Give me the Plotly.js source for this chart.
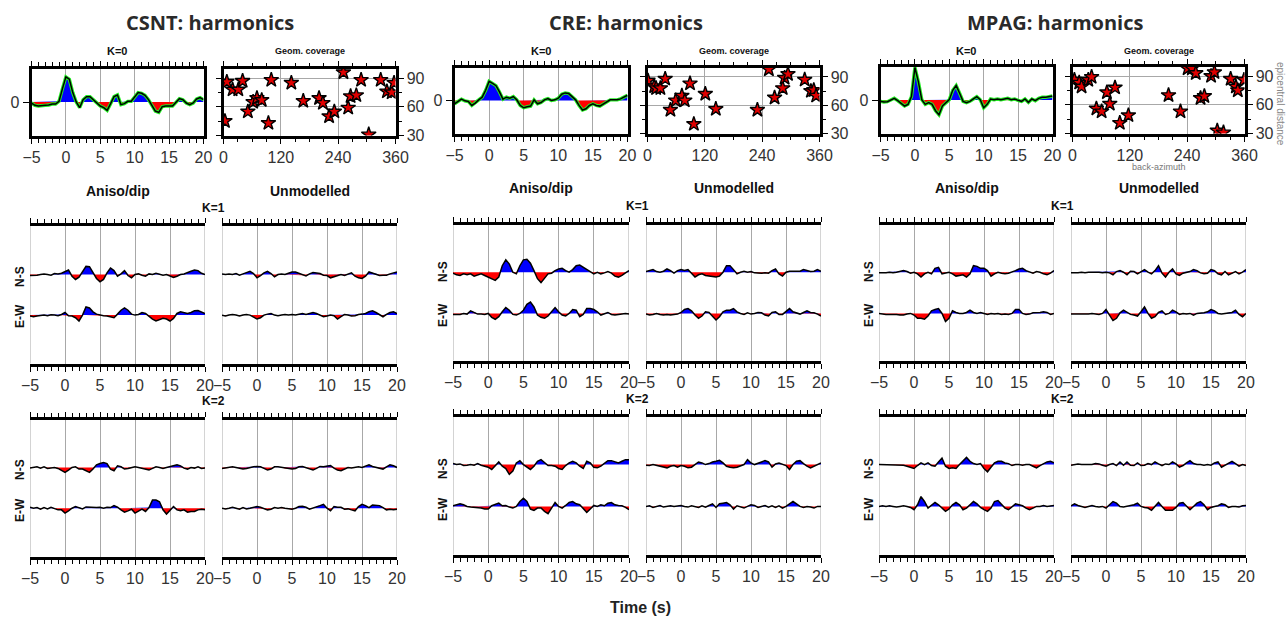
<!DOCTYPE html>
<html><head><meta charset="utf-8">
<script src="https://cdn.plot.ly/plotly-3.0.1.min.js"></script>
<style>html,body{margin:0;padding:0;background:#fff}#chart{width:1288px;height:618px}</style>
</head><body><div id="chart"></div>
<script>
// ---------------- DATA ----------------
const stationNames = ['CSNT', 'CRE', 'MPAG'];
const time = [-5,-4.5,-4,-3.5,-3,-2.5,-2,-1.5,-1,-0.5,0,0.5,1,1.5,2,2.5,3,3.5,4,4.5,5,5.5,6,6.5,7,7.5,8,8.5,9,9.5,10,10.5,11,11.5,12,12.5,13,13.5,14,14.5,15,15.5,16,16.5,17,17.5,18,18.5,19,19.5,20];

// K=0 harmonic (normalised)
const csntK0 = [-0.03,-0.10,-0.12,-0.12,-0.10,-0.09,-0.06,-0.06,0.02,0.40,0.75,0.68,0.28,0.0,-0.17,0.07,0.16,0.16,0.07,-0.05,-0.12,-0.17,-0.25,-0.05,0.16,0.21,-0.08,-0.05,0.02,0.02,0.14,0.28,0.26,0.20,0.07,-0.10,-0.27,-0.31,-0.14,-0.12,-0.12,-0.12,-0.01,0.10,0.07,-0.03,-0.08,-0.03,0.09,0.13,0.07];
const creK0  = [-0.10,-0.03,0.04,-0.01,-0.03,-0.15,-0.08,0.02,0.10,0.31,0.58,0.52,0.45,0.26,0.04,0.10,0.07,0.12,0.02,-0.15,-0.22,-0.19,-0.17,0.02,-0.10,-0.06,0.02,0.06,0.0,0.02,0.07,0.19,0.23,0.21,0.12,0.02,-0.15,-0.29,-0.25,-0.15,-0.10,-0.15,-0.17,-0.10,-0.03,0.02,0.02,0.02,0.05,0.10,0.16];
const mpagK0 = [-0.04,-0.06,-0.05,-0.01,0.05,-0.02,-0.11,-0.18,-0.13,0.10,0.97,0.55,0.01,-0.13,-0.08,-0.13,-0.32,-0.44,-0.18,-0.07,0.01,0.29,0.43,0.20,-0.04,-0.08,-0.04,0.03,0.10,0.01,-0.23,-0.13,0.03,0.01,0.03,0.01,0.03,0.05,0.01,0.03,-0.01,-0.04,0.03,-0.07,0.03,-0.02,0.05,0.08,0.08,0.10,0.12];

// K=1 / K=2 harmonics (amplitude units)
const csntK1AnisoNS = [-3,-3,-2,0,2,0,-2,3,2,4, 10,14,-5,-15,-8,8,25,24,5,-12, -22,-15,5,20,12,-5,2,12,-3,-10, 0,2,-2,-5,2,0,4,2,-2,0, -5,-9,-5,0,2,5,10,14,12,4, 0];
const csntK1AnisoEW = [-3,-5,-3,-2,0,-2,1,0,-2,2, 8,-2,-3,-8,-18,0,25,22,10,3, 0,-2,-3,-5,-8,3,15,22,15,3, 0,2,8,5,-5,-12,-18,-15,-10,-12, -18,-10,5,10,8,5,8,13,14,10, 5];
const csntK1UnmodNS = [2,0,2,0,3,-2,2,5,10,3, -10,-3,5,10,3,-7,0,2,0,4, 8,8,4,-2,-4,2,6,5,3,-2, -3,-10,-6,-3,0,-3,2,5,-5,-10, -12,-5,8,5,2,-3,-2,-2,2,4, 8];
const csntK1UnmodEW = [0,-3,0,2,0,-3,0,2,0,-5, -12,-8,0,3,5,0,-2,0,2,0, 2,0,3,5,2,5,8,5,0,-5, -3,0,-2,-12,-5,2,0,-3,-2,2, 3,5,10,13,8,2,-5,2,8,10, 5];
const csntK2AnisoNS = [-2,0,2,-2,2,-3,-2,0,-3,-8, -15,-8,0,2,-5,-5,-10,-15,-5,8, 12,15,12,-5,-10,5,2,-5,-3,0, 2,0,-3,-6,-8,-3,2,0,-3,0, 3,5,8,5,-2,-5,0,-2,2,-3, -2];
const csntK2AnisoEW = [3,0,2,-3,2,-2,3,0,-5,-5, -15,-8,0,5,2,-2,4,3,2,2, 3,0,3,2,8,3,-5,-12,-8,-3, -15,-8,-3,-10,2,25,25,20,-5,-18, -5,5,-5,-8,-5,-12,-10,-10,-5,-3, -5];
const csntK2UnmodNS = [-3,-2,0,2,0,-2,-5,-3,0,2, 3,2,-3,-8,-5,2,2,0,-3,-5, -5,-3,2,3,0,-3,-8,-3,3,2, 5,6,-2,-8,-10,-5,0,-2,0,2, 0,3,8,3,0,-3,-5,2,8,5, 0];
const csntK2UnmodEW = [0,-2,0,3,0,-3,2,-2,0,2, 5,3,-2,-5,-3,2,0,2,0,-2, -3,0,5,6,3,-3,0,5,8,12, 0,-8,5,3,3,-3,-2,-5,-8,5, 12,8,2,10,8,8,2,-5,-3,-5, -3];

const creK1AnisoNS = [-3,-8,-10,-5,-8,-5,-12,-8,-5,-10, -15,-20,-25,-15,20,38,25,0,-5,20, 38,40,28,5,-20,-32,-20,-5,-3,5, 10,12,5,0,8,20,22,15,8,0, -5,0,-5,-2,2,-3,-12,-15,-10,-2, 5];
const creK1AnisoEW = [-3,-3,-3,0,-2,8,3,-2,-2,-3, 0,-12,-18,-10,5,18,10,-3,-5,0, 10,28,35,20,-5,-12,-15,-8,5,18, 5,-5,-8,0,12,10,-10,-3,15,15, 12,5,-5,0,3,-3,-5,-3,-2,0, -2];
const creK1UnmodNS = [2,5,8,2,0,3,10,5,-3,5, 8,5,8,-3,-15,-8,-5,-10,-12,-12, -15,-12,0,20,20,8,-5,0,3,0, 2,-2,-3,-3,-2,-3,5,10,-5,-12, 0,3,3,3,3,8,5,2,3,8, 3];
const creK1UnmodEW = [-2,-5,-3,0,-3,-5,-3,-5,-3,-2, 3,12,15,8,-5,-15,-8,5,3,-8, -20,-10,5,10,10,15,5,0,-3,2, -2,0,3,2,-5,-8,3,5,-3,-3, 5,15,5,2,-2,3,8,3,2,-2, -8];
const creK2AnisoNS = [3,0,2,-3,-2,0,-2,3,-2,-5, -8,-15,-5,8,-5,-12,-30,-20,5,12, 0,-8,-15,-5,10,15,5,-3,-3,-5, -12,-15,-3,5,10,5,-5,-12,10,5, -8,-10,-5,5,12,12,8,5,10,15, 15];
const creK2AnisoEW = [2,5,8,5,0,-2,-3,-2,-5,-8, -8,2,5,10,2,3,-2,-5,0,15, 25,15,-8,-12,-5,-5,-15,-22,-5,12, 0,-5,3,12,15,8,5,-5,-18,-8, 3,0,5,2,10,12,5,3,2,-3, -10];
const creK2UnmodNS = [-2,-3,0,-2,-5,-8,-10,-5,-3,-8, -3,-5,-10,-8,0,8,5,0,3,8, 10,13,5,-5,-8,-10,-8,-5,0,15, 5,0,3,8,12,8,-8,2,5,0, -3,-15,0,10,12,3,-5,-10,-5,0, 5];
const creK2UnmodEW = [0,2,-3,0,3,-2,0,2,0,2, 3,0,-2,2,0,-3,2,-2,3,8, -3,8,10,12,5,-8,2,-2,-5,0, 5,3,-3,0,3,-2,2,-3,2,-5, 0,8,15,8,0,-3,0,-2,-5,0, 0];

const mpagK1AnisoNS = [-2,-3,-2,0,-2,0,2,5,2,-3, 0,-5,-15,-5,0,-5,12,15,-5,-3, 0,-5,-12,-10,-8,-15,-5,20,18,12, 12,5,-12,-5,0,-3,-5,-3,0,5, 10,12,5,0,-3,2,0,-5,-8,-3, 5];
const mpagK1AnisoEW = [0,-2,-3,-3,-2,-3,-5,-5,-2,0, -5,-15,-15,-18,-8,8,12,15,0,-25, -15,8,3,0,0,3,10,3,0,3, 0,-3,0,-2,0,-3,-2,-3,0,12, 12,0,-3,-2,2,2,3,5,3,-3, 0];
const mpagK1UnmodNS = [-2,-3,-2,0,-2,0,0,2,0,-2, 0,-2,-8,2,5,0,-8,3,2,-5, 2,8,0,-5,5,20,-3,-15,0,10, -5,-10,-3,0,2,8,5,-2,-5,-3, 8,5,-5,-8,2,-8,-3,2,-5,0, 8];
const mpagK1UnmodEW = [-2,-3,-2,-2,-3,-2,0,-2,-3,0, 12,-5,-22,-15,2,10,3,-3,-5,-8, 5,20,0,-15,-10,3,8,-3,0,10, 5,-3,0,-2,0,-5,0,0,2,5, 12,8,0,-2,0,2,3,10,-3,-10, 0];
const mpagK2AnisoNS = [0,0,0,-1,0,0,0,-2,-5,-8, -12,-3,5,0,5,-3,-5,8,20,-5, -12,-10,-12,0,12,22,10,3,0,3, -12,-22,-8,5,10,10,5,3,-3,0, 0,-2,0,0,-5,-10,-3,3,8,10, 5];
const mpagK2AnisoEW = [0,2,0,2,0,-2,0,2,0,-3, -10,5,30,15,-5,5,12,5,-5,-15, -8,5,12,5,-10,-5,5,15,8,-3, -10,-15,-5,15,18,5,-5,-10,0,8, 5,2,-5,-10,-5,0,0,3,0,2, 3];
const mpagK2UnmodNS = [-2,0,2,0,0,2,0,3,2,-2, -5,0,3,-3,8,-2,8,-2,-3,5, -3,-2,3,0,8,2,-3,2,0,8, 2,-8,-3,5,12,3,0,0,-2,0, -2,5,8,-8,-2,5,10,3,-5,0, -3];
const mpagK2UnmodEW = [2,8,3,0,-3,0,3,0,-2,0, -5,5,15,10,0,-2,0,3,5,10, 0,-3,-5,-12,0,12,0,-12,-12,-12, -3,10,12,0,-10,0,10,15,5,-10, -3,0,2,8,5,-3,0,0,-2,2, 3];

// Geometric coverage: back-azimuth (deg) and epicentral distance (deg)
const csntBaz  = [7,3,19,31,40,51,62,70,80,94,100,142,167,200,208,221,232,251,261,266,278,288,304,329,342,352,357];
const csntDist = [86,45,78,78,87,55,65,69,67,43,88,85,66,69,64,50,55,96,59,71,72,88,31,88,76,75,85];
const creBaz   = [1,14,18,27,37,48,59,72,78,89,97,121,143,230,254,266,283,287,294,329,342,348,353];
const creDist  = [86,80,78,78,88,55,65,70,65,83,40,72,56,55,98,68,78,89,93,87,75,76,70];
const mpagBaz  = [4,14,19,33,40,50,61,72,78,89,99,117,201,226,241,250,258,268,276,290,297,303,316,331,342,346,359];
const mpagDist = [86,83,79,86,89,56,53,73,61,78,41,49,70,53,98,98,93,67,69,90,94,33,31,87,79,75,86];

// ---------------- LAYOUT ----------------
const W = 1288, H = 618;
const geo = [
  {k0x:[30,205], gx:[222,397], top:[67,137], k1:[224,365], k2:[418,558], off1:124, r1:[-148,274], off2:125, r2:[-148,272],
   title:[210,22], k1lab:[213,208], k2lab:[213,401], sub:191, nsx:20, lab1:[277,316], lab2:[470,510]},
  {k0x:[453,629], gx:[646,821], top:[66,135], k1:[223,362], k2:[415,556], off1:127, r1:[-145,274], off2:128, r2:[-147,275],
   title:[626,22], k1lab:[637,206], k2lab:[637,399], sub:188, nsx:443, lab1:[272,315], lab2:[469,509]},
  {k0x:[879,1054], gx:[1071,1246], top:[65,135], k1:[223,362], k2:[415,556], off1:127, r1:[-145,274], off2:128, r2:[-147,275],
   title:[1055,22], k1lab:[1062,206], k2lab:[1062,399], sub:188, nsx:869, lab1:[272,315], lab2:[469,509]}
];
const k0Data = [csntK0, creK0, mpagK0];
const k1Data = [
  [csntK1AnisoNS, csntK1AnisoEW, csntK1UnmodNS, csntK1UnmodEW],
  [creK1AnisoNS, creK1AnisoEW, creK1UnmodNS, creK1UnmodEW],
  [mpagK1AnisoNS, mpagK1AnisoEW, mpagK1UnmodNS, mpagK1UnmodEW]];
const k2Data = [
  [csntK2AnisoNS, csntK2AnisoEW, csntK2UnmodNS, csntK2UnmodEW],
  [creK2AnisoNS, creK2AnisoEW, creK2UnmodNS, creK2UnmodEW],
  [mpagK2AnisoNS, mpagK2AnisoEW, mpagK2UnmodNS, mpagK2UnmodEW]];
const geomData = [[csntBaz, csntDist], [creBaz, creDist], [mpagBaz, mpagDist]];

const BLUE = '#0000ff', RED = '#ff0000';
const TICKFONT = {family:'Liberation Sans, Arial, sans-serif', size:16, color:'#333'};
const sfx = n => (n === 1 ? '' : String(n));
const xd = (a, b) => [a / W, b / W];
const yd = (top, bot) => [1 - bot / H, 1 - top / H];

function withCrossings(t, v) {
  const xs = [], ys = [];
  for (let i = 0; i < t.length; i++) {
    if (i > 0) {
      const a = v[i - 1], b = v[i];
      if ((a < 0 && b > 0) || (a > 0 && b < 0)) {
        const f = a / (a - b);
        xs.push(t[i - 1] + f * (t[i] - t[i - 1])); ys.push(0);
      }
    }
    xs.push(t[i]); ys.push(v[i]);
  }
  return [xs, ys];
}
function fillTrace(t, v, off, positive, color, n) {
  const [xs, ys] = withCrossings(t, v);
  const px = xs.slice();
  const py = ys.map(y => off + (positive ? Math.max(y, 0) : Math.min(y, 0)));
  px.push(xs[xs.length - 1], xs[0]); py.push(off, off);
  return {type:'scatter', mode:'lines', x:px, y:py, fill:'toself', fillcolor:color,
    line:{width:0, color:color}, xaxis:'x' + sfx(n), yaxis:'y' + sfx(n), hoverinfo:'skip', showlegend:false};
}
function lineTrace(t, v, off, color, width, n) {
  return {type:'scatter', mode:'lines', x:t, y:v.map(y => y + off), line:{color:color, width:width},
    xaxis:'x' + sfx(n), yaxis:'y' + sfx(n), hoverinfo:'skip', showlegend:false};
}

function timeX(n, dom) {
  return {domain:dom, anchor:'y' + sfx(n), range:[-5, 20], tickmode:'linear', tick0:-5, dtick:5,
    ticks:'outside', ticklen:5, tickwidth:1, tickcolor:'#000',
    minor:{tick0:-5, dtick:1, ticks:'outside', ticklen:4, tickwidth:1, tickcolor:'#000', showgrid:false},
    showline:true, linecolor:'#000', linewidth:3, mirror:'allticks',
    showgrid:true, gridcolor:'#a8a8a8', gridwidth:1, zeroline:false, tickfont:TICKFONT, fixedrange:true};
}

const traces = [];
const layout = {width:W, height:H, margin:{l:0, r:0, t:0, b:0}, paper_bgcolor:'#fff', plot_bgcolor:'rgba(0,0,0,0)',
  showlegend:false, font:{family:'Liberation Sans, Arial, sans-serif', color:'#222'}, annotations:[], shapes:[]};

function ann(text, x, y, size, opts) {
  layout.annotations.push(Object.assign({text:text, x:x / W, y:1 - y / H, xref:'paper', yref:'paper',
    xanchor:'center', yanchor:'middle', showarrow:false,
    font:{family:'Liberation Sans, Arial, sans-serif', size:size, color:'#111', weight:'bold'}}, opts || {}));
}
function edgeGrid(n) {
  [-5, 20].forEach(xv => layout.shapes.push({type:'line', xref:'x' + sfx(n), yref:'y' + sfx(n) + ' domain',
    x0:xv, x1:xv, y0:0, y1:1, line:{color:'#a8a8a8', width:1}, layer:'below'}));
}

for (let s = 0; s < 3; s++) {
  const g = geo[s];
  const base = s * 6;
  // ---- K=0 panel
  let n = base + 1;
  layout['xaxis' + sfx(n)] = timeX(n, xd(g.k0x[0] + 1.5, g.k0x[1] - 1.5));
  layout['yaxis' + sfx(n)] = {domain:yd(g.top[0] + 1.5, g.top[1] - 1.5), anchor:'x' + sfx(n), range:[-1, 1],
    tickmode:'array', tickvals:[0], ticktext:['0'], ticks:'outside', ticklen:6, tickwidth:1, tickcolor:'#000',
    showline:true, linecolor:'#000', linewidth:3, mirror:true, showgrid:false, zeroline:false, tickfont:TICKFONT, fixedrange:true};
  traces.push(fillTrace(time, k0Data[s], 0, true, BLUE, n));
  traces.push(fillTrace(time, k0Data[s], 0, false, RED, n));
  traces.push(lineTrace(time, k0Data[s], 0, '#22ee22', 3.4, n));
  traces.push(lineTrace(time, k0Data[s], 0, '#000', 1.5, n));

  // ---- Geometric coverage
  n = base + 2;
  layout['xaxis' + sfx(n)] = {domain:xd(g.gx[0] + 1.5, g.gx[1] - 1.5), anchor:'y' + sfx(n), range:[0, 360],
    tickmode:'linear', tick0:0, dtick:120, ticks:'outside', ticklen:5, tickwidth:1, tickcolor:'#000',
    minor:{tick0:0, dtick:30, ticks:'outside', ticklen:3, tickwidth:1, tickcolor:'#000', showgrid:false},
    showline:true, linecolor:'#000', linewidth:3, mirror:'allticks', showgrid:true, gridcolor:'#a8a8a8', gridwidth:1,
    zeroline:false, tickfont:TICKFONT, fixedrange:true};
  layout['yaxis' + sfx(n)] = {domain:yd(g.top[0] + 1.5, g.top[1] - 1.5), anchor:'x' + sfx(n), side:'right', range:[30, 100],
    tickmode:'linear', tick0:30, dtick:30, ticks:'outside', ticklen:5, tickwidth:1, tickcolor:'#000',
    minor:{tick0:30, dtick:15, ticks:'outside', ticklen:3, tickwidth:1, tickcolor:'#000', showgrid:false},
    showline:true, linecolor:'#000', linewidth:3, mirror:'allticks', showgrid:true, gridcolor:'#a8a8a8', gridwidth:1,
    zeroline:false, tickfont:TICKFONT, fixedrange:true};
  traces.push({type:'scatter', mode:'markers', x:geomData[s][0], y:geomData[s][1], xaxis:'x' + sfx(n), yaxis:'y' + sfx(n),
    marker:{symbol:'star', size:11, color:'#e00000', line:{color:'#000', width:1.4}}, hoverinfo:'skip', showlegend:false});

  // ---- K=1 and K=2 panels
  const rows = [[g.k1, g.off1, g.r1, k1Data[s]], [g.k2, g.off2, g.r2, k2Data[s]]];
  rows.forEach((row, ri) => {
    const [yy, off, rng, dat] = row;
    [g.k0x, g.gx].forEach((xx, ci) => {
      const m = base + 3 + ri * 2 + ci;
      layout['xaxis' + sfx(m)] = timeX(m, xd(xx[0], xx[1]));
      layout['yaxis' + sfx(m)] = {domain:yd(yy[0] + 1.5, yy[1] - 1.5), anchor:'x' + sfx(m), range:rng,
        showline:false, showticklabels:false, ticks:'', showgrid:false, zeroline:false, fixedrange:true};
      edgeGrid(m);
      const ns = dat[ci * 2], ew = dat[ci * 2 + 1];
      [[ns, off], [ew, 0]].forEach(([v, o]) => {
        traces.push(fillTrace(time, v, o, true, BLUE, m));
        traces.push(fillTrace(time, v, o, false, RED, m));
        traces.push(lineTrace(time, v, o, '#000', 1.5, m));
      });
    });
  });

  // ---- Text
  ann(stationNames[s] + ': harmonics', g.title[0], g.title[1], 20,
    {font:{family:'Open Sans, sans-serif', size:20, color:'#2a2a2a', weight:'bold'}});
  ann('K=0', (g.k0x[0] + g.k0x[1]) / 2, 51, 11);
  ann('Geom. coverage', (g.gx[0] + g.gx[1]) / 2, 51, 9);
  ann('Aniso/dip', (g.k0x[0] + g.k0x[1]) / 2, g.sub, 14);
  ann('Unmodelled', (g.gx[0] + g.gx[1]) / 2, g.sub, 14);
  ann('K=1', g.k1lab[0], g.k1lab[1], 12);
  ann('K=2', g.k2lab[0], g.k2lab[1], 12);
  ann('N-S', g.nsx, g.lab1[0], 12, {textangle:-90});
  ann('E-W', g.nsx, g.lab1[1], 12, {textangle:-90});
  ann('N-S', g.nsx, g.lab2[0], 12, {textangle:-90});
  ann('E-W', g.nsx, g.lab2[1], 12, {textangle:-90});
}
ann('back-azimuth', 1159, 167, 9, {font:{family:'Liberation Sans, Arial, sans-serif', size:9, color:'#777'}});
ann('epicentral distance', 1281, 104, 10, {textangle:90, font:{family:'Liberation Sans, Arial, sans-serif', size:10, color:'#888'}});
ann('Time (s)', 640, 607, 16, {font:{family:'Liberation Sans, Arial, sans-serif', size:16, color:'#222', weight:'bold'}});

Plotly.newPlot('chart', traces, layout, {staticPlot:true, displayModeBar:false});
</script>
</body></html>
